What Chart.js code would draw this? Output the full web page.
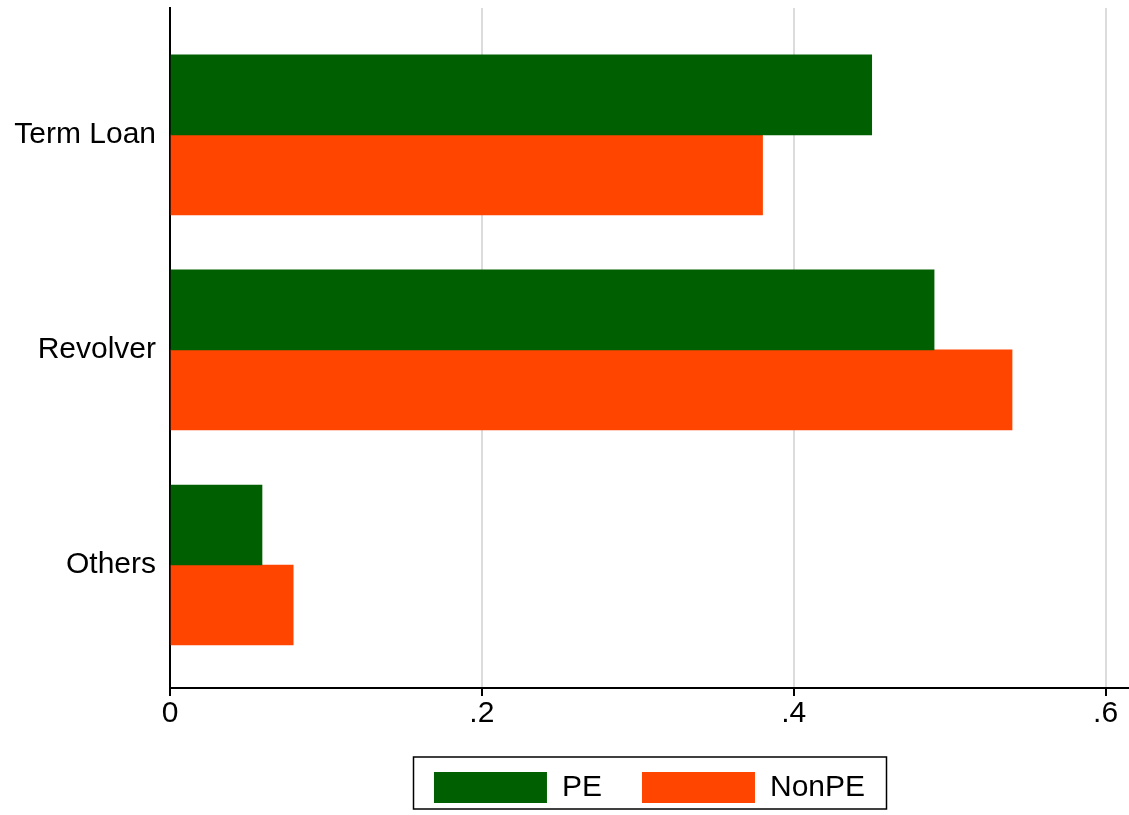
<!DOCTYPE html>
<html><head><meta charset="utf-8">
<script src="https://cdn.jsdelivr.net/npm/chart.js@4"></script>
<style>body{margin:0;background:#fff}#wrap{width:1129px;height:815px}</style>
</head><body><div id="wrap"><canvas id="c"></canvas></div>
<script>
const categories = ["Term Loan", "Revolver", "Others"];
const peValues = [0.45, 0.49, 0.059];
const nonPeValues = [0.38, 0.54, 0.079];
const xTicks = [0, 0.2, 0.4, 0.6];
const xTickLabels = ["0", ".2", ".4", ".6"];
const barShift = 0.186;

// center the legend under the plot area and draw a frame round it
const legendBox = {
  id: "legendBox",
  afterLayout(chart) {
    chart.legend.left = chart.chartArea.left;
  },
  afterDraw(chart) {
    const ctx = chart.ctx, l = chart.legend;
    const cx = (chart.chartArea.left + chart.chartArea.right) / 2;
    ctx.save();
    ctx.strokeStyle = "#000"; ctx.lineWidth = 1.5;
    ctx.strokeRect(cx - 236, l.bottom - 56, 473, 52);
    ctx.restore();
  }
};

const font = { size: 30, family: "Liberation Sans" };

new Chart(document.getElementById("c"), {
  type: "bar",
  data: {
    datasets: [
      { label: "PE", data: peValues.map((v, i) => ({ x: v, y: i - barShift })), backgroundColor: "#005f00" },
      { label: "NonPE", data: nonPeValues.map((v, i) => ({ x: v, y: i + barShift })), backgroundColor: "#ff4500" }
    ]
  },
  options: {
    indexAxis: "y",
    responsive: true, maintainAspectRatio: false, animation: false,
    layout: { padding: { top: 8, right: 0, left: 0, bottom: 2 } },
    datasets: { bar: { barThickness: 80, grouped: false } },
    scales: {
      x: {
        type: "linear", min: 0, max: 0.615,
        afterBuildTicks: s => { s.ticks = xTicks.map(v => ({ value: v })); },
        ticks: { callback: (v, i) => xTickLabels[i], color: "#000", font, padding: 0 },
        grid: { color: c => c.tick && c.tick.value === 0 ? "rgba(0,0,0,0)" : "#dcdcdc", lineWidth: 2, tickColor: "#000", tickLength: 8 },
        border: { color: "#000", width: 2 }
      },
      y: {
        type: "linear", min: -0.59, max: 2.572, reverse: true, offset: false,
        afterBuildTicks: s => { s.ticks = [0, 1, 2].map(v => ({ value: v })); },
        afterFit: s => { s.width = 170; s.paddingTop = 0; s.paddingBottom = 0; },
        ticks: { callback: v => categories[v], color: "#000", font, padding: 14 },
        grid: { offset: false, drawOnChartArea: false, drawTicks: false },
        border: { color: "#000", width: 2 }
      }
    },
    plugins: {
      tooltip: { enabled: false },
      legend: {
        position: "bottom",
        labels: { boxWidth: 113, boxHeight: 31, color: "#000", font, padding: 40 }
      }
    }
  },
  plugins: [legendBox]
});
</script></body></html>
